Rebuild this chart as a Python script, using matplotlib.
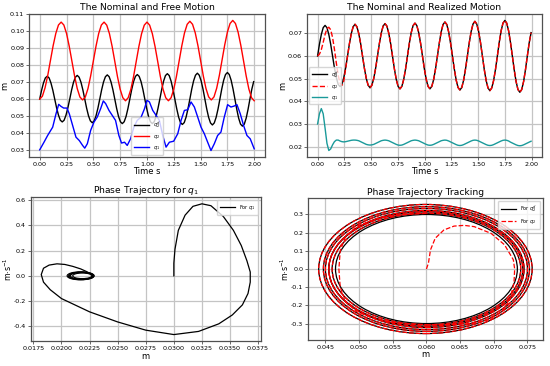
import numpy as np
import matplotlib
matplotlib.use("Agg")
import matplotlib.pyplot as plt
from matplotlib.patches import Ellipse
from matplotlib.lines import Line2D
from matplotlib.ticker import FormatStrFormatter

# ---------------- data ----------------
# common time grid for the smooth signals (s)
t_grid = np.round(np.arange(115) * 0.0175, 4)

# nominal motion q2^d (m)
q2d = [0.0600, 0.0652, 0.0695, 0.0725, 0.0735,
       0.0725, 0.0695, 0.0652, 0.0600, 0.0548, 0.0505, 0.0475, 0.0465,
       0.0475, 0.0505, 0.0548, 0.0600, 0.0654, 0.0699, 0.0729, 0.0740,
       0.0729, 0.0699, 0.0654, 0.0600, 0.0546, 0.0501, 0.0471, 0.0460,
       0.0471, 0.0501, 0.0546, 0.0600, 0.0655, 0.0701, 0.0732, 0.0743,
       0.0732, 0.0701, 0.0655, 0.0600, 0.0544, 0.0497, 0.0466, 0.0455,
       0.0466, 0.0497, 0.0544, 0.0600, 0.0656, 0.0703, 0.0734, 0.0745,
       0.0734, 0.0703, 0.0656, 0.0600, 0.0544, 0.0497, 0.0466, 0.0455,
       0.0466, 0.0497, 0.0544, 0.0600, 0.0657, 0.0706, 0.0739, 0.0750,
       0.0739, 0.0706, 0.0657, 0.0600, 0.0543, 0.0494, 0.0461, 0.0450,
       0.0461, 0.0494, 0.0543, 0.0600, 0.0659, 0.0708, 0.0741, 0.0753,
       0.0741, 0.0708, 0.0659, 0.0600, 0.0541, 0.0492, 0.0459, 0.0447,
       0.0459, 0.0492, 0.0541, 0.0600, 0.0660, 0.0711, 0.0745, 0.0757,
       0.0745, 0.0711, 0.0660, 0.0600, 0.0539, 0.0487, 0.0452, 0.0440,
       0.0452, 0.0487, 0.0539, 0.0600, 0.0658, 0.0703]

# realized (tracked) q2: first samples differ, afterwards it lies on q2^d
q2_tracked_start = [0.0600, 0.0608, 0.0628, 0.0660, 0.0695, 0.0720, 0.0727,
                    0.0716, 0.0682, 0.0630, 0.0570, 0.0515, 0.0480, 0.0470,
                    0.0490, 0.0545]

# free motion q2 (m), grid of 0.025 s
t_free = np.round(np.arange(81) * 0.025, 3)
q2_free = [0.0600, 0.0617, 0.0667, 0.0740, 0.0828, 0.0915, 0.0988, 0.1038, 0.1055,
           0.1038, 0.0988, 0.0913, 0.0825, 0.0737, 0.0662, 0.0612, 0.0595,
           0.0612, 0.0662, 0.0737, 0.0825, 0.0913, 0.0988, 0.1038, 0.1055,
           0.1037, 0.0987, 0.0912, 0.0823, 0.0733, 0.0658, 0.0608, 0.0590,
           0.0608, 0.0658, 0.0733, 0.0823, 0.0912, 0.0987, 0.1037, 0.1055,
           0.1037, 0.0987, 0.0912, 0.0823, 0.0733, 0.0658, 0.0608, 0.0590,
           0.0608, 0.0659, 0.0735, 0.0825, 0.0915, 0.0991, 0.1042, 0.1060,
           0.1042, 0.0992, 0.0917, 0.0828, 0.0738, 0.0663, 0.0613, 0.0595,
           0.0613, 0.0664, 0.0740, 0.0830, 0.0920, 0.0996, 0.1047, 0.1065,
           0.1047, 0.0995, 0.0918, 0.0828, 0.0737, 0.0660, 0.0608, 0.0590]

# free motion q1 (m)
t_q1_free = [0.000, 0.040, 0.074, 0.121, 0.152, 0.177, 0.198, 0.223, 0.254, 0.276,
             0.307, 0.338, 0.369, 0.400, 0.420, 0.444, 0.475, 0.506, 0.537, 0.568,
             0.593, 0.615, 0.646, 0.676, 0.707, 0.738, 0.763, 0.791, 0.816, 0.847,
             0.878, 0.909, 0.946, 0.977, 1.000, 1.023, 1.054, 1.085, 1.116, 1.147,
             1.178, 1.209, 1.249, 1.287, 1.318, 1.349, 1.380, 1.411, 1.442, 1.473,
             1.504, 1.535, 1.566, 1.597, 1.628, 1.659, 1.690, 1.721, 1.752, 1.783,
             1.814, 1.839, 1.870, 1.901, 1.932, 1.963, 2.000]
q1_free = [0.0300, 0.0345, 0.0385, 0.0434, 0.0513, 0.0569, 0.0557, 0.0547, 0.0547, 0.0513,
           0.0444, 0.0375, 0.0355, 0.0326, 0.0310, 0.0336, 0.0415, 0.0464, 0.0494, 0.0543,
           0.0589, 0.0573, 0.0533, 0.0504, 0.0474, 0.0385, 0.0340, 0.0345, 0.0326, 0.0365,
           0.0434, 0.0474, 0.0494, 0.0543, 0.0593, 0.0583, 0.0533, 0.0504, 0.0474, 0.0385,
           0.0316, 0.0345, 0.0351, 0.0395, 0.0474, 0.0533, 0.0537, 0.0583, 0.0553, 0.0494,
           0.0434, 0.0395, 0.0345, 0.0296, 0.0336, 0.0385, 0.0405, 0.0494, 0.0567, 0.0553,
           0.0559, 0.0567, 0.0513, 0.0444, 0.0385, 0.0365, 0.0306]

# controlled q1 (m) on t_grid
q1_ctrl = [0.0300, 0.0345, 0.0368, 0.0345, 0.0282, 0.0215, 0.0183, 0.0190, 0.0208,
           0.0222, 0.0229, 0.0229, 0.0225, 0.0222, 0.0221, 0.0222, 0.0224, 0.0226,
           0.0228, 0.0229, 0.0229,
           0.0228, 0.0226, 0.0222, 0.0218, 0.0214, 0.0210, 0.0208, 0.0207,
           0.0208, 0.0210, 0.0214, 0.0218, 0.0222, 0.0226, 0.0228, 0.0229,
           0.0228, 0.0226, 0.0222, 0.0218, 0.0214, 0.0210, 0.0207, 0.0206,
           0.0207, 0.0210, 0.0214, 0.0218, 0.0222, 0.0226, 0.0228, 0.0229,
           0.0228, 0.0226, 0.0222, 0.0218, 0.0214, 0.0210, 0.0207, 0.0206,
           0.0207, 0.0210, 0.0214, 0.0218, 0.0222, 0.0226, 0.0228, 0.0229,
           0.0228, 0.0225, 0.0221, 0.0217, 0.0213, 0.0209, 0.0206, 0.0205,
           0.0206, 0.0209, 0.0213, 0.0217, 0.0221, 0.0225, 0.0228, 0.0229,
           0.0228, 0.0225, 0.0221, 0.0217, 0.0213, 0.0209, 0.0206, 0.0205,
           0.0206, 0.0209, 0.0213, 0.0217, 0.0221, 0.0225, 0.0228, 0.0229,
           0.0228, 0.0225, 0.0220, 0.0216, 0.0212, 0.0208, 0.0205, 0.0204,
           0.0205, 0.0208, 0.0212, 0.0216, 0.0220, 0.0224]

# phase trajectory of q1: transient path (m, m/s)
ph1_x = [0.0300, 0.0300, 0.0301, 0.0304, 0.0310, 0.0317, 0.0325, 0.0333, 0.0344,
         0.0353, 0.0360, 0.0365, 0.0368, 0.0368, 0.0366, 0.0361, 0.0352, 0.0340,
         0.0322, 0.0300, 0.0275, 0.0250, 0.0225, 0.0200, 0.0190, 0.0184, 0.0182,
         0.0184, 0.0189, 0.0196, 0.0203, 0.0210, 0.0217, 0.0222, 0.0226, 0.0228]
ph1_v = [0.00, 0.10, 0.21, 0.36, 0.48, 0.55, 0.57, 0.555, 0.47,
         0.36, 0.24, 0.12, 0.03, -0.05, -0.14, -0.23, -0.31, -0.38,
         -0.44, -0.465, -0.43, -0.365, -0.285, -0.18, -0.11, -0.05, 0.01,
         0.06, 0.085, 0.095, 0.09, 0.075, 0.055, 0.035, 0.015, 0.0]
# settled q1 loops: min position, max position, max speed
ph1_loop_min = [0.0205, 0.0206, 0.0207, 0.0208, 0.0210]
ph1_loop_max = [0.0229, 0.0229, 0.0228, 0.0228, 0.0227]
ph1_loop_vmax = [0.032, 0.030, 0.028, 0.026, 0.022]

# phase loops of q2^d: min position, max position, max speed
ph2_loop_min = [0.0465, 0.0460, 0.0455, 0.0455, 0.0450, 0.0447, 0.0440]
ph2_loop_max = [0.0735, 0.0740, 0.0743, 0.0745, 0.0750, 0.0753, 0.0757]
ph2_loop_vmax = [0.300, 0.307, 0.315, 0.322, 0.333, 0.343, 0.355]
# first (transient) loop of realized q2
ph2r_x = [0.0600, 0.0603, 0.0606, 0.0613, 0.0626, 0.0641, 0.0656, 0.0671, 0.0696,
          0.0716, 0.0729, 0.0731, 0.0730, 0.0724, 0.0712, 0.0692, 0.0667, 0.0640,
          0.0600, 0.0560, 0.0525, 0.0497, 0.0480, 0.0472, 0.0470, 0.0472, 0.0480,
          0.0497, 0.0525, 0.0560, 0.0600]
ph2r_v = [0.000, 0.033, 0.105, 0.169, 0.215, 0.236, 0.240, 0.233, 0.196,
          0.133, 0.051, 0.000, -0.076, -0.167, -0.235, -0.280, -0.300, -0.305,
          -0.306, -0.298, -0.276, -0.236, -0.180, -0.100, 0.000, 0.100, 0.180,
          0.236, 0.276, 0.298, 0.306]

# ---------------- figure ----------------
plt.rcParams['font.family'] = ['DejaVu Sans']
plt.rcParams['axes.unicode_minus'] = False
fig = plt.figure(figsize=(5.5, 3.66), dpi=100)

ax1 = fig.add_axes([0.0527, 0.571, 0.429, 0.391])
ax2 = fig.add_axes([0.558, 0.571, 0.427, 0.391])
ax3 = fig.add_axes([0.0560, 0.068, 0.418, 0.393])
ax4 = fig.add_axes([0.560, 0.071, 0.427, 0.388])

TITLE_FS = 6.6
LABEL_FS = 6.0
TICK_FS = 4.6
LEG_FS = 3.6

def style(ax):
    ax.grid(True, color='#c4c4c4', linewidth=0.9)
    ax.set_axisbelow(True)
    for s in ax.spines.values():
        s.set_color('#505050')
        s.set_linewidth(0.9)
    ax.tick_params(labelsize=TICK_FS, length=2.2, width=0.6, pad=1.2, color='#505050')

# top-left
q2d_arr = np.array(q2d)
ax1.plot(t_grid, q2d_arr, color='k', lw=1.0, label='$q_2^d$')
ax1.plot(t_free, q2_free, color='r', lw=1.0, label='$q_2$')
ax1.plot(t_q1_free, q1_free, color='b', lw=1.0, label='$q_1$')
ax1.set_title('The Nominal and Free Motion', fontsize=TITLE_FS, pad=2.5)
ax1.set_xlabel('Time s', fontsize=LABEL_FS, labelpad=0.5)
ax1.set_ylabel('m', fontsize=LABEL_FS, labelpad=0.5)
ax1.set_xticks(np.arange(0, 2.01, 0.25))
ax1.yaxis.set_major_formatter(FormatStrFormatter('%.2f'))
ax1.legend(loc='lower center', fontsize=LEG_FS, handlelength=3, borderpad=0.5,
           labelspacing=0.6, framealpha=0.8)
style(ax1)

# top-right
q2_tracked = np.concatenate([q2_tracked_start, q2d_arr[len(q2_tracked_start):]])
ax2.plot(t_grid, q2d_arr, color='k', lw=1.0, label='$q_2^d$')
ax2.plot(t_grid, q2_tracked, color='r', lw=1.0, ls='--', label='$q_2$')
ax2.plot(t_grid, q1_ctrl, color='#1a9a9a', lw=1.0, label='$q_1$')
ax2.set_title('The Nominal and Realized Motion', fontsize=TITLE_FS, pad=2.5)
ax2.set_xlabel('Time s', fontsize=LABEL_FS, labelpad=0.5)
ax2.set_ylabel('m', fontsize=LABEL_FS, labelpad=0.5)
ax2.set_xticks(np.arange(0, 2.01, 0.25))
ax2.yaxis.set_major_formatter(FormatStrFormatter('%.2f'))
ax2.legend(loc='center left', fontsize=LEG_FS, handlelength=3, borderpad=0.5,
           labelspacing=0.6, framealpha=0.8)
style(ax2)

# bottom-left
ax3.plot(ph1_x, ph1_v, color='k', lw=0.9, label='For $q_1$')
for lo, hi, vm in zip(ph1_loop_min, ph1_loop_max, ph1_loop_vmax):
    ax3.add_patch(Ellipse(((lo + hi) / 2, 0.0), hi - lo, 2 * vm, fill=False,
                          edgecolor='k', lw=0.8))
ax3.autoscale_view()
ax3.set_title('Phase Trajectory for $q_1$', fontsize=TITLE_FS, pad=2.5)
ax3.set_xlabel('m', fontsize=LABEL_FS, labelpad=0.5)
ax3.set_ylabel(r'm$\cdot$s$^{-1}$', fontsize=5.6, labelpad=0)
ax3.set_xticks(np.arange(0.0175, 0.03751, 0.0025))
ax3.legend(loc='upper right', fontsize=LEG_FS, handlelength=3, borderpad=0.6)
style(ax3)

# bottom-right
for lo, hi, vm in zip(ph2_loop_min, ph2_loop_max, ph2_loop_vmax):
    ax4.add_patch(Ellipse(((lo + hi) / 2, 0.0), hi - lo, 2 * vm, fill=False,
                          edgecolor='k', lw=0.9))
ax4.plot(ph2r_x, ph2r_v, color='r', lw=0.9, ls='--')
for lo, hi, vm in zip(ph2_loop_min[1:], ph2_loop_max[1:], ph2_loop_vmax[1:]):
    ax4.add_patch(Ellipse(((lo + hi) / 2, 0.0), hi - lo, 2 * vm, fill=False,
                          edgecolor='r', lw=0.9, ls='--'))
ax4.autoscale_view()
ax4.set_title('Phase Trajectory Tracking', fontsize=TITLE_FS, pad=2.5)
ax4.set_xlabel('m', fontsize=LABEL_FS, labelpad=0.5)
ax4.set_ylabel(r'm$\cdot$s$^{-1}$', fontsize=5.6, labelpad=0)
handles = [Line2D([], [], color='k', lw=0.9), Line2D([], [], color='r', lw=0.9, ls='--')]
ax4.legend(handles, ['For $q_2^d$', 'For $q_2$'], loc='upper right', fontsize=LEG_FS,
           handlelength=3, borderpad=0.6)
style(ax4)

fig.savefig('out.png', dpi=100)
